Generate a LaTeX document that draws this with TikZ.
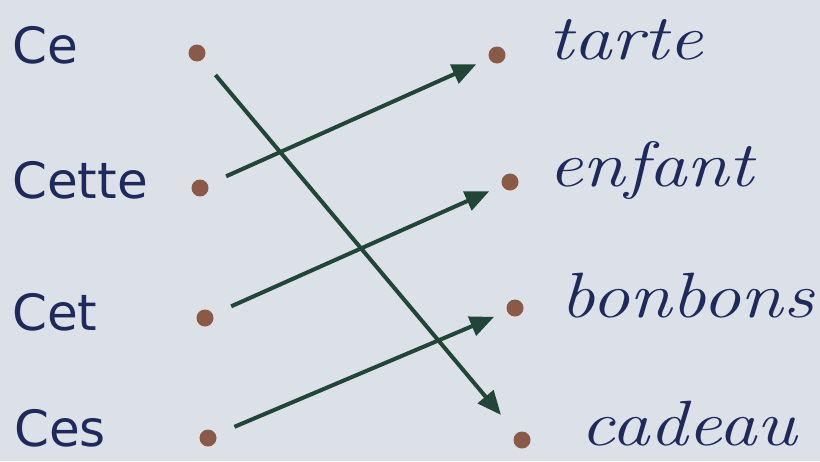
\documentclass[tikz,border=0pt]{standalone}
\usepackage{fontspec}
\setsansfont{DejaVu Sans}
\usetikzlibrary{arrows.meta}
\definecolor{bg}{HTML}{DCE0E7}
\definecolor{ink}{HTML}{1E2A5E}
\definecolor{dotc}{HTML}{8A5A46}
\definecolor{arr}{HTML}{1F4636}
\tikzset{
  leftword/.style={anchor=west, text=ink, font=\sffamily\fontsize{50}{54}\selectfont, inner sep=0pt},
  rightword/.style={anchor=west, text=ink, font=\itshape\fontsize{64}{68}\selectfont, inner sep=0pt, xscale=1.2},
  pt/.style={circle, fill=dotc, minimum size=17pt, inner sep=0pt},
  link/.style={draw=arr, line width=4pt, -{Triangle[length=24pt,width=20pt]}, shorten <=20pt, shorten >=14pt}
}
\begin{document}
\begin{tikzpicture}[x=1pt,y=-1pt]
\fill[bg] (0,0) rectangle (820,461);
\useasboundingbox (0,0) rectangle (820,461);
\node[leftword] (w1) at (12,45) {Ce};
\node[leftword] (w2) at (12,180) {Cette};
\node[leftword] (w3) at (12,312) {Cet};
\node[leftword] (w4) at (14,428) {Ces};
\node[pt] (l1) at (197,53) {};
\node[pt] (l2) at (200,188) {};
\node[pt] (l3) at (205,318) {};
\node[pt] (l4) at (208,438) {};
\node[pt] (r1) at (497,55) {};
\node[pt] (r2) at (510,182) {};
\node[pt] (r3) at (515,308) {};
\node[pt] (r4) at (522,440) {};
\node[rightword] (t1) at (548,40) {tarte};
\node[rightword] (t2) at (548,170) {enfant};
\node[rightword] (t3) at (560,296) {bonbons};
\node[rightword] (t4) at (580,424) {cadeau};
\draw[link, shorten >=24pt] (l1) -- (r4);
\draw[link] (l2) -- (r1);
\draw[link] (l3) -- (r2);
\draw[link] (l4) -- (r3);
\end{tikzpicture}
\end{document}
